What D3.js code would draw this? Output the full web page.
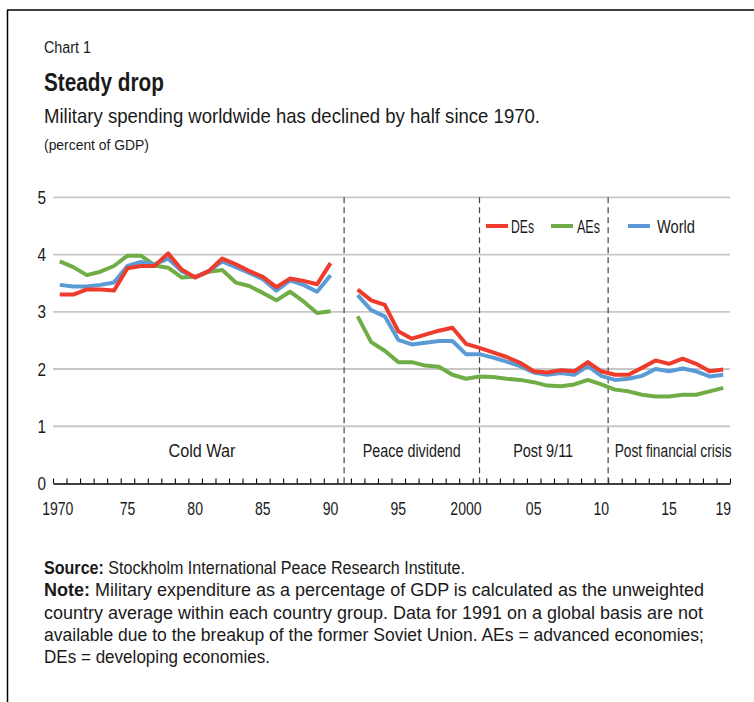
<!DOCTYPE html>
<html>
<head>
<meta charset="utf-8">
<script src="https://cdn.jsdelivr.net/npm/d3@7"></script>
<style>
  body { margin: 0; background: #fff; }
  svg text { font-family: "Liberation Sans", Arial, sans-serif; fill: #1a1a1a; }
</style>
</head>
<body>
<div id="chart"></div>
<script>
// years 1970-2019, 1991 missing
var years = d3.range(1970, 2020);
var des = [3.30,3.30,3.39,3.39,3.37,3.76,3.80,3.80,4.02,3.74,3.60,3.71,3.93,3.83,3.71,3.61,3.43,3.58,3.54,3.48,3.85,
  null,3.39,3.20,3.12,2.66,2.53,2.60,2.67,2.72,2.44,2.37,2.29,2.21,2.11,1.96,1.94,1.98,1.96,2.12,1.96,
  1.90,1.90,2.02,2.15,2.09,2.18,2.09,1.96,1.99];
var aes = [3.88,3.78,3.64,3.70,3.80,3.98,3.98,3.81,3.77,3.60,3.61,3.70,3.73,3.51,3.45,3.33,3.20,3.35,3.18,2.98,3.01,
  null,2.92,2.47,2.32,2.12,2.12,2.06,2.04,1.90,1.83,1.87,1.86,1.83,1.81,1.77,1.71,1.70,1.73,1.81,1.73,
  1.64,1.61,1.55,1.52,1.52,1.55,1.55,1.61,1.67];
var world = [3.47,3.44,3.44,3.47,3.51,3.80,3.87,3.83,3.93,3.71,3.60,3.71,3.88,3.78,3.68,3.57,3.37,3.55,3.47,3.35,3.64,
  null,3.29,3.03,2.92,2.51,2.43,2.46,2.49,2.49,2.26,2.26,2.20,2.13,2.05,1.94,1.90,1.93,1.90,2.05,1.88,
  1.81,1.83,1.88,2.00,1.96,2.01,1.96,1.87,1.90];
var yTicks = [0, 1, 2, 3, 4, 5];
var xTickYears = [1970, 1975, 1980, 1985, 1990, 1995, 2000, 2005, 2010, 2015, 2019];
var xTickLabels = ["1970", "75", "80", "85", "90", "95", "2000", "05", "10", "15", "19"];
var periods = ["Cold War", "Peace dividend", "Post 9/11", "Post financial crisis"];
var periodCenters = [1980.5, 1996, 2005.7, 2015.3];
var dividers = [1991, 2001, 2010.5];

var width = 754, height = 702;
var svg = d3.select("#chart").append("svg")
    .attr("width", width)
    .attr("height", height);

// squeeze text to the condensed width of the original typeface
function fit(sel, w) {
    sel.attr("textLength", w).attr("lengthAdjust", "spacingAndGlyphs");
}
function squeeze(sel, k) {
    sel.each(function() {
        d3.select(this).attr("textLength", this.getComputedTextLength() * k).attr("lengthAdjust", "spacingAndGlyphs");
    });
}

// frame
svg.append("line").attr("x1", 7).attr("x2", width).attr("y1", 10).attr("y2", 10)
    .attr("stroke", "#000").attr("stroke-width", 1.5);
svg.append("line").attr("x1", 7.5).attr("x2", 7.5).attr("y1", 10).attr("y2", height)
    .attr("stroke", "#000").attr("stroke-width", 1.5);

// titles
svg.append("text").attr("x", 44).attr("y", 53).style("font-size", "16px").text("Chart 1").call(fit, 47);
svg.append("text").attr("x", 44).attr("y", 91).style("font-size", "25px").style("font-weight", "bold").text("Steady drop").call(fit, 120);
svg.append("text").attr("x", 44).attr("y", 123).style("font-size", "21px").text("Military spending worldwide has declined by half since 1970.").call(fit, 496);
svg.append("text").attr("x", 44).attr("y", 150).style("font-size", "15.5px").text("(percent of GDP)").call(fit, 105);

var x = d3.scaleLinear().domain([1969.5, 2019.5]).range([53, 730]);
var y = d3.scaleLinear().domain([0, 5]).range([483.5, 197.3]);

// gridlines
svg.append("g").selectAll("line")
    .data(yTicks.filter(function(d) { return d > 0; }))
    .enter().append("line")
    .attr("x1", 53).attr("x2", 730)
    .attr("y1", function(d) { return y(d); })
    .attr("y2", function(d) { return y(d); })
    .attr("stroke", "#c8c8c8").attr("stroke-width", 1.8);

// y labels
svg.append("g").selectAll("text")
    .data(yTicks)
    .enter().append("text")
    .attr("x", 46)
    .attr("y", function(d) { return y(d) + 6.5; })
    .attr("text-anchor", "end")
    .style("font-size", "18px")
    .text(function(d) { return d; })
    .call(squeeze, 0.85);

// x axis with ticks at year boundaries
var xAxis = d3.axisTop(x)
    .tickValues(d3.range(1969.5, 2020, 1))
    .tickSize(5)
    .tickSizeOuter(0)
    .tickFormat("");
var gx = svg.append("g").attr("transform", "translate(0," + y(0) + ")").call(xAxis);
gx.select(".domain").attr("stroke", "#000").attr("stroke-width", 1.3);
gx.selectAll(".tick line").attr("stroke", "#000").attr("stroke-width", 1.1);

svg.append("g").selectAll("text")
    .data(xTickYears)
    .enter().append("text")
    .attr("x", function(d) { return x(d) - (d == 1970 ? 2 : 0); })
    .attr("y", 515)
    .attr("text-anchor", "middle")
    .style("font-size", "18px")
    .text(function(d, i) { return xTickLabels[i]; })
    .call(squeeze, 0.78);

// dividers
svg.append("g").selectAll("line")
    .data(dividers)
    .enter().append("line")
    .attr("x1", function(d) { return x(d); })
    .attr("x2", function(d) { return x(d); })
    .attr("y1", y(5))
    .attr("y2", y(0))
    .attr("stroke", "#444").attr("stroke-width", 1.2)
    .attr("stroke-dasharray", "6,4");

// period labels
var periodWidths = [67, 98, 60, 117];
svg.append("g").selectAll("text")
    .data(periods)
    .enter().append("text")
    .attr("x", function(d, i) { return x(periodCenters[i]); })
    .attr("y", 457)
    .attr("text-anchor", "middle")
    .style("font-size", "17.5px")
    .text(function(d) { return d; })
    .each(function(d, i) { d3.select(this).call(fit, periodWidths[i]); });

// lines
var series = [
    { name: "AEs", values: aes, color: "#70ad47" },
    { name: "World", values: world, color: "#5b9bd5" },
    { name: "DEs", values: des, color: "#ee3b2b" }
];
var line = d3.line()
    .defined(function(d) { return d != null; })
    .x(function(d, i) { return x(years[i]); })
    .y(function(d) { return y(d); });

svg.append("g").selectAll("path")
    .data(series)
    .enter().append("path")
    .attr("d", function(s) { return line(s.values); })
    .attr("fill", "none")
    .attr("stroke", function(s) { return s.color; })
    .attr("stroke-width", 4)
    .attr("stroke-linejoin", "round");

// legend
var legendItems = [
    { name: "DEs", color: "#ee3b2b", x: 486, dx: 25, w: 23 },
    { name: "AEs", color: "#70ad47", x: 551, dx: 26, w: 23 },
    { name: "World", color: "#5b9bd5", x: 628, dx: 29, w: 38 }
];
var lg = svg.append("g").selectAll("g")
    .data(legendItems)
    .enter().append("g")
    .attr("transform", function(d) { return "translate(" + d.x + ",226)"; });
lg.append("line").attr("x1", 0).attr("x2", 22).attr("y1", 0).attr("y2", 0)
    .attr("stroke", function(d) { return d.color; }).attr("stroke-width", 4);
lg.append("text").attr("x", function(d) { return d.dx; }).attr("y", 6.5)
    .style("font-size", "18px")
    .text(function(d) { return d.name; })
    .each(function(d) { d3.select(this).call(fit, d.w); });

// source and note
var notes = [
    [["Source:", true], [" Stockholm International Peace Research Institute.", false]],
    [["Note:", true], [" Military expenditure as a percentage of GDP is calculated as the unweighted", false]],
    [["country average within each country group. Data for 1991 on a global basis are not", false]],
    [["available due to the breakup of the former Soviet Union. AEs = advanced economies;", false]],
    [["DEs = developing economies.", false]]
];
var noteWidths = [421, 660, 659, 660, 226];
var nt = svg.append("g");
notes.forEach(function(row, i) {
    var t = nt.append("text").attr("x", 44).attr("y", 574 + i * 22.3).style("font-size", "17.5px");
    row.forEach(function(part) {
        t.append("tspan").style("font-weight", part[1] ? "bold" : "normal").text(part[0]);
    });
    t.call(fit, noteWidths[i]);
});
</script>
</body>
</html>
